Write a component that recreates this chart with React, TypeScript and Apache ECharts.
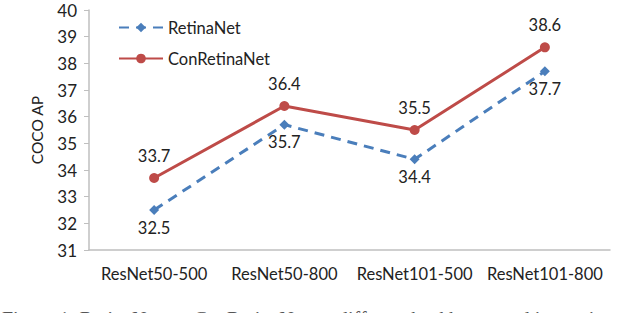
import React, { useEffect, useRef } from "react";
import * as echarts from "echarts";

const categories = ["ResNet50-500", "ResNet50-800", "ResNet101-500", "ResNet101-800"];
const retinaNet = [32.5, 35.7, 34.4, 37.7];
const conRetinaNet = [33.7, 36.4, 35.5, 38.6];
const caption = "Figure 1: RetinaNet vs. ConRetinaNet on different backbones and input sizes";

export default function App() {
  const ref = useRef<HTMLDivElement>(null);
  useEffect(() => {
    document.body.style.margin = "0";
    const chart = echarts.init(ref.current!, null, { renderer: "svg" });
    const font = "Lato, 'Open Sans', sans-serif";
    chart.setOption({
      animation: false,
      backgroundColor: "#ffffff",
      textStyle: { fontFamily: font },
      grid: { left: 89, right: 30, top: 10, bottom: 63, containLabel: false },
      legend: {
        orient: "vertical",
        left: 113,
        top: 14,
        itemGap: 14,
        itemWidth: 44,
        itemHeight: 12,
        textStyle: { fontSize: 16.5, color: "#222", fontFamily: font },
        data: ["RetinaNet", "ConRetinaNet"],
      },
      xAxis: {
        type: "category",
        data: categories,
        boundaryGap: true,
        axisLine: { lineStyle: { color: "#bfbfbf", width: 1.5 } },
        axisTick: { show: false },
        axisLabel: { fontSize: 16.5, color: "#222", margin: 15, interval: 0, fontFamily: font },
      },
      yAxis: {
        type: "value",
        min: 31,
        max: 40,
        interval: 1,
        name: "COCO AP",
        nameLocation: "middle",
        nameGap: 44,
        nameMoveOverlap: false,
        nameRotate: 90,
        nameTextStyle: { fontSize: 15.5, color: "#222", fontFamily: font },
        splitLine: { show: false },
        axisLine: { show: true, lineStyle: { color: "#bfbfbf", width: 1.5 } },
        axisTick: { show: true, length: 5, lineStyle: { color: "#bfbfbf" } },
        axisLabel: { fontSize: 17, color: "#222", margin: 12, fontFamily: font },
      },
      series: [
        {
          name: "RetinaNet",
          type: "line",
          data: retinaNet,
          symbol: "diamond",
          symbolSize: 10,
          lineStyle: { color: "#4a7ebb", width: 3, type: [10, 7] },
          itemStyle: { color: "#4a7ebb" },
          label: { show: true, position: "bottom", distance: 4, fontSize: 16.5, color: "#222", fontFamily: font },
        },
        {
          name: "ConRetinaNet",
          type: "line",
          data: conRetinaNet,
          symbol: "circle",
          symbolSize: 10,
          lineStyle: { color: "#be4b48", width: 3 },
          itemStyle: { color: "#be4b48" },
          label: { show: true, position: "top", distance: 9, fontSize: 16.5, color: "#222", fontFamily: font },
        },
      ],
      graphic: [
        {
          type: "text",
          left: 2,
          top: 309,
          style: { text: caption, font: "20px 'Liberation Serif', serif", fill: "#555" },
        },
      ],
    });
    return () => chart.dispose();
  }, []);
  return <div ref={ref} style={{ width: 640, height: 313 }} />;
}
